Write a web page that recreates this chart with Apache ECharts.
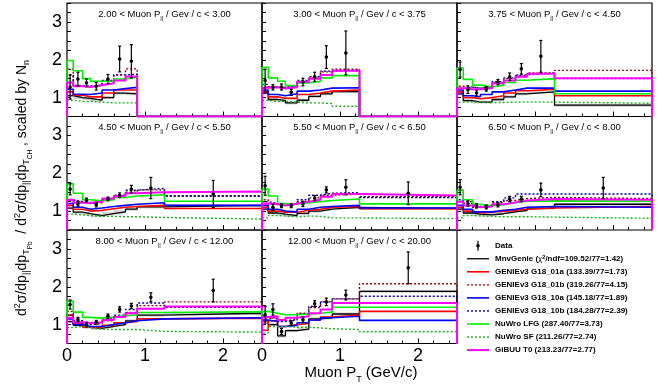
<!DOCTYPE html>
<html>
<head>
<meta charset="utf-8">
<title>Pb/CH double ratio vs muon pT</title>
<script src="https://cdn.jsdelivr.net/npm/echarts@6/dist/echarts.min.js"></script>
<style>
  html, body { margin: 0; padding: 0; background: #fff; }
  #chart { width: 660px; height: 388px; }
</style>
</head>
<body>
<div id="chart"></div>
<script>
// pT bin edges (GeV/c), shared by all panels
var ptEdges = [0, 0.08, 0.2, 0.3, 0.45, 0.6, 0.75, 0.9, 1.25, 2.5];
// muon p|| ranges of the 8 panels
var pLow  = ['2.00', '3.00', '3.75', '4.50', '5.50', '6.50', '8.00', '12.00'];
var pHigh = ['3.00', '3.75', '4.50', '5.50', '6.50', '8.00', '12.00', '20.00'];

// model predictions, one list per panel
var mnvGenie = [
  [1.05, 1.00, 0.98, 0.93, 1.00, 1.12, 1.10],
  [1.12, 0.95, 0.92, 0.86, 0.93, 1.03, 1.10, 1.16],
  [1.10, 0.92, 0.88, 0.88, 0.95, 1.02, 1.10, 1.15, 0.80],
  [1.08, 0.97, 0.93, 0.88, 0.93, 0.98, 1.05, 1.11, 1.15],
  [1.05, 0.95, 0.92, 0.88, 0.94, 1.00, 1.05, 1.10, 1.07],
  [1.05, 0.95, 0.92, 0.90, 0.93, 0.98, 1.02, 1.08, 1.18],
  [1.08, 0.98, 0.93, 0.90, 0.95, 1.00, 1.10, 1.25, 1.30],
  [1.10, 1.00, 0.70, 0.84, 0.88, 1.15, 1.18, 1.28, 1.88]
];
var g18_01a = [
  [1.15, 1.06, 1.02, 1.02, 1.12, 1.20, 1.20],
  [1.15, 1.02, 0.98, 0.98, 1.08, 1.12, 1.17, 1.20],
  [1.15, 1.00, 0.97, 1.00, 1.05, 1.12, 1.18, 1.22, 1.05],
  [1.15, 1.05, 1.00, 1.02, 1.06, 1.10, 1.12, 1.15, 1.07],
  [1.10, 1.00, 0.97, 0.97, 1.02, 1.05, 1.10, 1.12, 1.06],
  [1.10, 1.00, 0.95, 0.97, 1.00, 1.02, 1.05, 1.08, 1.12],
  [1.25, 1.02, 0.93, 0.92, 0.98, 1.05, 1.08, 1.15, 1.17],
  [0.85, 1.10, 0.95, 1.00, 1.03, 1.12, 1.20, 1.25, 1.35]
];
var g18_01b = [
  [1.75, 1.30, 1.30, 1.32, 1.43, 1.60, 1.76],
  [1.28, 1.28, 1.27, 1.30, 1.42, 1.52, 1.68, 1.75],
  [1.30, 1.28, 1.25, 1.28, 1.40, 1.50, 1.58, 1.65, 1.72],
  [1.30, 1.25, 1.20, 1.22, 1.30, 1.40, 1.50, 1.56, 1.40],
  [1.30, 1.20, 1.15, 1.18, 1.25, 1.35, 1.42, 1.45, 1.38],
  [1.55, 1.25, 1.10, 1.12, 1.22, 1.28, 1.33, 1.36, 1.33],
  [1.35, 1.10, 1.00, 1.02, 1.10, 1.22, 1.32, 1.50, 1.60],
  [1.15, 1.20, 1.10, 1.15, 1.30, 1.45, 1.60, 1.68, 2.08]
];
var g18_10a = [
  [1.22, 1.09, 1.08, 1.12, 1.20, 1.24, 1.27],
  [1.20, 1.08, 1.05, 1.10, 1.17, 1.20, 1.25, 1.26],
  [1.20, 1.05, 1.02, 1.08, 1.15, 1.20, 1.25, 1.25, 1.17],
  [1.20, 1.10, 1.05, 1.08, 1.12, 1.15, 1.18, 1.22, 1.15],
  [1.15, 1.05, 1.00, 0.98, 1.05, 1.10, 1.12, 1.15, 1.08],
  [1.15, 1.05, 0.98, 0.98, 1.02, 1.05, 1.10, 1.12, 1.10],
  [1.15, 1.00, 0.95, 0.95, 1.00, 1.05, 1.10, 1.15, 1.18],
  [1.12, 1.08, 0.95, 0.98, 1.05, 1.12, 1.18, 1.22, 1.11]
];
var g18_10b = [
  [1.60, 1.32, 1.30, 1.32, 1.45, 1.60, 1.62],
  [1.35, 1.28, 1.27, 1.30, 1.45, 1.55, 1.70, 1.73],
  [1.25, 1.27, 1.25, 1.28, 1.42, 1.52, 1.60, 1.65, 1.50],
  [1.28, 1.25, 1.20, 1.25, 1.32, 1.42, 1.55, 1.60, 1.40],
  [1.25, 1.20, 1.15, 1.18, 1.30, 1.42, 1.47, 1.49, 1.36],
  [1.30, 1.20, 1.12, 1.15, 1.25, 1.35, 1.45, 1.45, 1.45],
  [1.25, 1.10, 1.02, 1.05, 1.15, 1.25, 1.40, 1.57, 1.46],
  [1.20, 1.15, 1.08, 1.12, 1.28, 1.48, 1.60, 1.68, 1.75]
];
var nuwroLFG = [
  [1.98, 1.71, 1.50, 1.43, 1.43, 1.49, 1.54],
  [1.80, 1.52, 1.43, 1.32, 1.39, 1.43, 1.52, 1.58],
  [1.78, 1.48, 1.33, 1.28, 1.33, 1.40, 1.46, 1.50, 1.10],
  [1.72, 1.47, 1.30, 1.27, 1.30, 1.36, 1.40, 1.43, 1.26],
  [1.58, 1.40, 1.20, 1.18, 1.22, 1.25, 1.28, 1.32, 1.19],
  [1.55, 1.30, 1.18, 1.14, 1.17, 1.22, 1.26, 1.27, 1.26],
  [1.62, 1.33, 1.19, 1.17, 1.20, 1.23, 1.26, 1.32, 1.34],
  [1.35, 1.30, 1.26, 1.26, 1.28, 1.30, 1.33, 1.46, 1.46]
];
var nuwroSF = [
  [0.93, 0.90, 0.90, 0.88, 0.86, 0.86, 0.86],
  [0.92, 0.90, 0.90, 0.88, 0.86, 0.86, 0.84, 0.77],
  [0.88, 0.88, 0.88, 0.87, 0.87, 0.88, 0.88, 0.88, 0.85],
  [0.92, 0.90, 0.88, 0.86, 0.86, 0.85, 0.85, 0.83, 0.79],
  [0.82, 0.88, 0.87, 0.85, 0.87, 0.86, 0.82, 0.82, 0.80],
  [0.82, 0.88, 0.87, 0.86, 0.85, 0.85, 0.85, 0.84, 0.81],
  [0.92, 0.95, 0.92, 0.88, 0.87, 0.87, 0.87, 0.82, 0.80],
  [0.78, 0.95, 0.95, 0.93, 0.93, 0.91, 0.89, 0.87, 0.81]
];
var gibuu = [
  [1.40, 1.30, 1.28, 1.33, 1.38, 1.45, 1.56],
  [1.26, 1.27, 1.24, 1.27, 1.42, 1.50, 1.60, 1.71],
  [1.25, 1.22, 1.22, 1.25, 1.38, 1.45, 1.55, 1.63, 1.51],
  [1.30, 1.22, 1.22, 1.25, 1.33, 1.40, 1.47, 1.50, 1.52],
  [1.20, 1.18, 1.15, 1.20, 1.25, 1.30, 1.38, 1.45, 1.41],
  [1.25, 1.15, 1.10, 1.12, 1.18, 1.23, 1.28, 1.32, 1.30],
  [1.18, 1.06, 1.04, 1.06, 1.12, 1.20, 1.30, 1.42, 1.48],
  [1.20, 1.22, 1.12, 1.18, 1.22, 1.30, 1.40, 1.57, 1.57]
];
var mcErr = 0.04; // half width of the MnvGenie band

// data points and total errors
var dataVal = [
  [1.28, 1.49, 1.39, 1.30, 1.49, 2.02, 1.96],
  [1.45, 1.27, 1.28, 1.14, 1.41, 1.55, 2.07, 2.18],
  [1.74, 1.21, 1.12, 1.23, 1.41, 1.55, 1.76, 2.09],
  [1.58, 1.19, 1.29, 1.17, 1.32, 1.42, 1.58, 1.61, 1.45],
  [1.67, 1.10, 1.14, 1.14, 1.19, 1.34, 1.56, 1.63, 1.47],
  [1.63, 1.20, 1.14, 1.11, 1.17, 1.32, 1.32, 1.56, 1.61],
  [1.53, 1.13, 1.00, 1.06, 1.22, 1.40, 1.49, 1.72, 1.90],
  [1.26, 1.40, 0.82, 1.04, 1.13, 1.55, 1.60, 1.78, 2.50]
];
var dataErr = [
  [0.32, 0.18, 0.10, 0.10, 0.12, 0.34, 0.44],
  [0.30, 0.07, 0.08, 0.08, 0.10, 0.12, 0.30, 0.58],
  [0.20, 0.10, 0.08, 0.06, 0.07, 0.10, 0.14, 0.42],
  [0.15, 0.06, 0.05, 0.06, 0.05, 0.06, 0.10, 0.28, 0.36],
  [0.25, 0.08, 0.05, 0.05, 0.07, 0.07, 0.08, 0.20, 0.30],
  [0.20, 0.07, 0.06, 0.05, 0.06, 0.07, 0.07, 0.18, 0.28],
  [0.12, 0.06, 0.06, 0.05, 0.06, 0.07, 0.07, 0.12, 0.30],
  [0.22, 0.15, 0.08, 0.06, 0.07, 0.08, 0.10, 0.13, 0.42]
];

var legendText = [
  'MnvGenie ({chi|χ}{sup|2}/ndf=109.52/77=1.42)',
  'GENIEv3 G18_01a (133.39/77=1.73)',
  'GENIEv3 G18_01b (319.26/77=4.15)',
  'GENIEv3 G18_10a (145.18/77=1.89)',
  'GENIEv3 G18_10b (184.28/77=2.39)',
  'NuWro LFG (287.40/77=3.73)',
  'NuWro SF (211.26/77=2.74)',
  'GiBUU T0 (213.23/77=2.77)'
];

var models = [
  { vals: mnvGenie, color: '#000000', width: 1.3, dash: 'solid' },
  { vals: g18_01a,  color: '#ff0000', width: 1.6, dash: 'solid' },
  { vals: g18_01b,  color: '#990000', width: 1.4, dash: [2, 2] },
  { vals: g18_10a,  color: '#0000ff', width: 1.6, dash: 'solid' },
  { vals: g18_10b,  color: '#000099', width: 1.4, dash: [2, 2] },
  { vals: nuwroLFG, color: '#00ee00', width: 1.6, dash: 'solid' },
  { vals: nuwroSF,  color: '#1faa1f', width: 1.4, dash: [2, 2] },
  { vals: gibuu,    color: '#ff00ff', width: 2,   dash: 'solid' }
];

var FONT = '"Liberation Sans", Arial, Helvetica, sans-serif';
var X_MAX = 2.5, Y_MIN = 0.5, Y_MAX = 3.5;
var colLeft = [67, 262, 457], panelW = 195;
var rowTop = [3, 116.5, 230], panelH = 113.5;

function intOnly(v) {
  return Math.abs(v - Math.round(v)) < 1e-6 ? String(Math.round(v)) : '';
}

// histogram drawn as a step outline, starting and ending on the frame floor
function stepPoints(vals) {
  var pts = [[ptEdges[0], Y_MIN]];
  for (var i = 0; i < vals.length; i++) {
    pts.push([ptEdges[i], vals[i]]);
    pts.push([ptEdges[i + 1], vals[i]]);
  }
  var end = ptEdges[vals.length];
  pts.push([end, Y_MIN]);
  if (end < X_MAX) pts.push([X_MAX, Y_MIN]);
  return pts;
}

var grids = [], xAxes = [], yAxes = [], series = [], graphics = [];

for (var p = 0; p < 8; p++) {
  var c = p % 3, r = Math.floor(p / 3);
  grids.push({
    left: colLeft[c], top: rowTop[r], width: panelW, height: panelH,
    show: true, borderColor: '#000', borderWidth: 1.2
  });
  xAxes.push({
    type: 'value', gridIndex: p, min: 0, max: X_MAX, interval: 1,
    axisLine: { show: false }, splitLine: { show: false },
    axisTick: { inside: true, length: 5, lineStyle: { color: '#000' } },
    minorTick: { show: true, splitNumber: 5, length: 3, lineStyle: { color: '#000' } },
    axisLabel: { show: r === 2, formatter: intOnly, color: '#000', fontSize: 18, fontFamily: FONT, margin: 4 }
  });
  yAxes.push({
    type: 'value', gridIndex: p, min: Y_MIN, max: Y_MAX, interval: 0.25,
    axisLine: { show: false }, splitLine: { show: false },
    axisTick: { inside: true, length: 4, lineStyle: { color: '#000' } },
    axisLabel: { show: c === 0, formatter: intOnly, color: '#000', fontSize: 18, fontFamily: FONT, margin: 5 }
  });

  // MnvGenie error band
  var band = mnvGenie[p].map(function (v, i) { return [ptEdges[i], ptEdges[i + 1], v]; });
  series.push({
    type: 'custom', xAxisIndex: p, yAxisIndex: p, data: band, encode: { x: [0, 1], y: 2 },
    renderItem: function (params, api) {
      var a = api.coord([api.value(0), api.value(2) + mcErr]);
      var b = api.coord([api.value(1), api.value(2) - mcErr]);
      return { type: 'rect', shape: { x: a[0], y: a[1], width: b[0] - a[0], height: b[1] - a[1] },
               style: { fill: 'rgba(150,150,150,0.45)' } };
    }
  });

  models.forEach(function (m) {
    series.push({
      type: 'line', xAxisIndex: p, yAxisIndex: p, data: stepPoints(m.vals[p]),
      symbol: 'none', silent: true, animation: false,
      lineStyle: { color: m.color, width: m.width, type: m.dash }
    });
  });

  var pts = dataVal[p].map(function (v, i) {
    return [(ptEdges[i] + ptEdges[i + 1]) / 2, v, dataErr[p][i]];
  });
  series.push({
    type: 'custom', xAxisIndex: p, yAxisIndex: p, data: pts, encode: { x: 0, y: 1 }, z: 5,
    renderItem: function (params, api) {
      var x = api.value(0), v = api.value(1), e = api.value(2);
      var t = api.coord([x, v + e]), b = api.coord([x, v - e]), m = api.coord([x, v]);
      var s = { stroke: '#000', lineWidth: 1.2 };
      return { type: 'group', children: [
        { type: 'line', shape: { x1: t[0], y1: t[1], x2: b[0], y2: b[1] }, style: s },
        { type: 'line', shape: { x1: t[0] - 1.5, y1: t[1], x2: t[0] + 1.5, y2: t[1] }, style: s },
        { type: 'line', shape: { x1: b[0] - 1.5, y1: b[1], x2: b[0] + 1.5, y2: b[1] }, style: s },
        { type: 'circle', shape: { cx: m[0], cy: m[1], r: 1.8 }, style: { fill: '#000' } }
      ] };
    }
  });

  // panel title
  graphics.push({
    type: 'text', x: colLeft[c] + panelW / 2, y: rowTop[r] + 11,
    style: {
      text: pLow[p] + ' < Muon P{s|||} / Gev / c < ' + pHigh[p],
      align: 'center', verticalAlign: 'middle',
      fontFamily: FONT, fontSize: 9.5, lineHeight: 14, fill: '#000',
      rich: { s: { fontSize: 6, lineHeight: 6, verticalAlign: 'bottom', fontFamily: FONT, fill: '#000' } }
    }
  });
}

// legend in the empty bottom-right cell
var legX = 467, legY = 245.7, legStep = 13.05;
graphics.push({ type: 'line', shape: { x1: 478, y1: legY - 5, x2: 478, y2: legY + 5 }, style: { stroke: '#000', lineWidth: 1.2 } });
graphics.push({ type: 'circle', shape: { cx: 478, cy: legY, r: 1.8 }, style: { fill: '#000' } });
graphics.push({ type: 'text', x: 495, y: legY, style: { text: 'Data', fontFamily: FONT, fontWeight: 'bold', fontSize: 8, fill: '#000', verticalAlign: 'middle' } });
models.forEach(function (m, i) {
  var y = legY + legStep * (i + 1);
  graphics.push({ type: 'line', shape: { x1: legX, y1: y, x2: legX + 22, y2: y },
    style: { stroke: m.color, lineWidth: m.width, lineDash: m.dash === 'solid' ? null : m.dash } });
  graphics.push({ type: 'text', x: 495, y: y, style: {
    text: legendText[i], fontFamily: FONT, fontWeight: 'bold', fontSize: 8, fill: '#000', verticalAlign: 'middle',
    rich: {
      chi: { fontFamily: FONT, fontSize: 8, fill: '#000' },
      sup: { fontFamily: FONT, fontWeight: 'bold', fontSize: 5.5, lineHeight: 5, verticalAlign: 'top', fill: '#000' }
    }
  } });
});

// axis titles
graphics.push({
  type: 'text', x: 361, y: 373,
  style: {
    text: 'Muon P{sub|T} (GeV/c)', align: 'center', verticalAlign: 'middle',
    fontFamily: FONT, fontSize: 15, lineHeight: 22, fill: '#000',
    rich: { sub: { fontFamily: FONT, fontSize: 9, lineHeight: 9, verticalAlign: 'bottom', fill: '#000' } }
  }
});
graphics.push({
  type: 'text', x: 22, y: 188, rotation: Math.PI / 2,
  style: {
    text: 'd{sup|2}σ/dp{sub|||}dp{sub|T}{ss|Pb}  / d{sup|2}σ/dp{sub|||}dp{sub|T}{ss|CH} , scaled by N{sub|n}',
    align: 'center', verticalAlign: 'middle',
    fontFamily: FONT, fontSize: 14, lineHeight: 24, fill: '#000',
    rich: {
      sup: { fontFamily: FONT, fontSize: 9, lineHeight: 9, padding: [3, 0, 0, 0], verticalAlign: 'top', fill: '#000' },
      sub: { fontFamily: FONT, fontSize: 9, lineHeight: 9, padding: [0, 0, 3, 0], verticalAlign: 'bottom', fill: '#000' },
      ss: { fontFamily: FONT, fontSize: 6.5, lineHeight: 7, verticalAlign: 'bottom', fill: '#000' }
    }
  }
});

var myChart = echarts.init(document.getElementById('chart'), null, { renderer: 'canvas' });
myChart.setOption({
  animation: false,
  backgroundColor: '#fff',
  grid: grids,
  xAxis: xAxes,
  yAxis: yAxes,
  series: series,
  graphic: graphics
});
</script>
</body>
</html>
